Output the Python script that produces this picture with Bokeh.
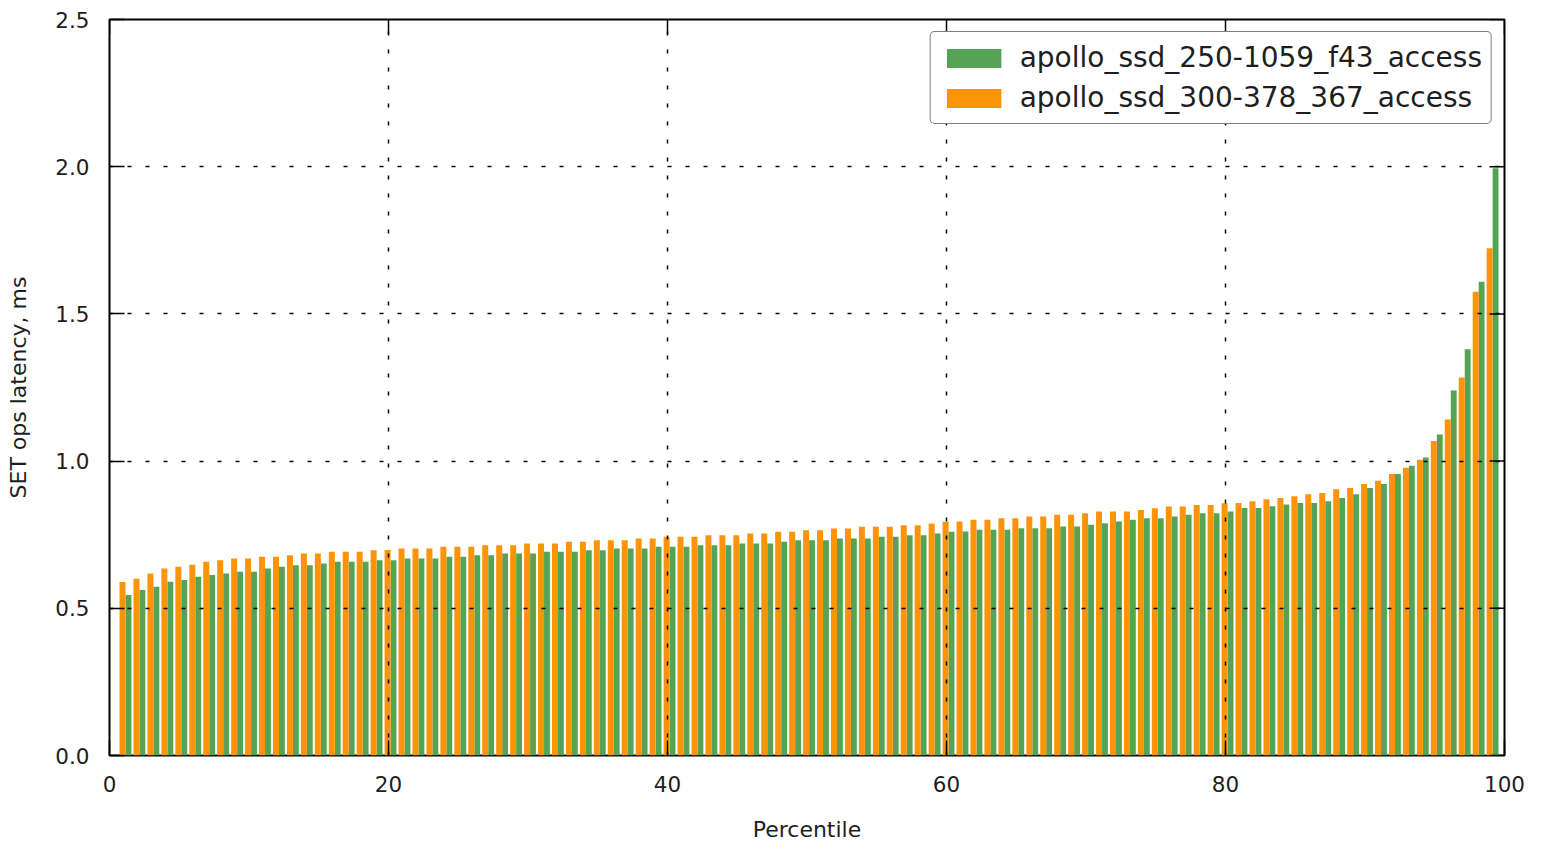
import math
from bokeh.plotting import figure
from bokeh.models import ColumnDataSource, Range1d, FixedTicker, Legend, LegendItem, NumeralTickFormatter
from bokeh.transform import dodge
from bokeh.embed import file_html
from bokeh.resources import INLINE

percentiles = list(range(1, 100))

ssd_300_378 = [
    0.589, 0.600, 0.618, 0.635, 0.641, 0.648, 0.658, 0.663, 0.669, 0.669,
    0.675, 0.675, 0.680, 0.686, 0.686, 0.692, 0.692, 0.692, 0.697, 0.698,
    0.703, 0.703, 0.703, 0.709, 0.709, 0.709, 0.714, 0.714, 0.714, 0.720,
    0.720, 0.720, 0.726, 0.726, 0.731, 0.731, 0.731, 0.737, 0.737, 0.743,
    0.743, 0.743, 0.748, 0.748, 0.748, 0.754, 0.754, 0.760, 0.760, 0.765,
    0.765, 0.771, 0.771, 0.777, 0.777, 0.777, 0.782, 0.782, 0.788, 0.794,
    0.795, 0.801, 0.801, 0.806, 0.806, 0.812, 0.812, 0.818, 0.818, 0.823,
    0.829, 0.829, 0.829, 0.834, 0.840, 0.846, 0.846, 0.851, 0.851, 0.857,
    0.858, 0.864, 0.870, 0.875, 0.881, 0.887, 0.892, 0.904, 0.909, 0.922,
    0.933, 0.956, 0.977, 1.005, 1.068, 1.141, 1.284, 1.575, 1.723,
]

ssd_250_1059 = [
    0.545, 0.562, 0.573, 0.590, 0.596, 0.607, 0.613, 0.618, 0.624, 0.624,
    0.635, 0.641, 0.646, 0.646, 0.652, 0.658, 0.658, 0.658, 0.663, 0.663,
    0.669, 0.669, 0.669, 0.675, 0.675, 0.680, 0.680, 0.686, 0.686, 0.686,
    0.692, 0.692, 0.692, 0.697, 0.697, 0.703, 0.703, 0.703, 0.709, 0.709,
    0.709, 0.714, 0.714, 0.714, 0.720, 0.720, 0.720, 0.726, 0.731, 0.731,
    0.731, 0.737, 0.737, 0.737, 0.743, 0.743, 0.748, 0.748, 0.754, 0.760,
    0.761, 0.767, 0.767, 0.767, 0.772, 0.772, 0.772, 0.778, 0.778, 0.784,
    0.789, 0.795, 0.801, 0.806, 0.806, 0.812, 0.818, 0.823, 0.823, 0.829,
    0.841, 0.841, 0.847, 0.853, 0.858, 0.858, 0.864, 0.875, 0.887, 0.909,
    0.922, 0.956, 0.984, 1.012, 1.090, 1.240, 1.380, 1.609, 1.995,
]

label_green = "apollo_ssd_250-1059_f43_access"
label_orange = "apollo_ssd_300-378_367_access"

x_ticks = [0, 20, 40, 60, 80, 100]
y_ticks = [0.0, 0.5, 1.0, 1.5, 2.0, 2.5]

GREEN = "#55a455"
ORANGE = "#fb9408"
FONT = "DejaVu Sans"
TEXT = "#1e1e1e"

source = ColumnDataSource(dict(p=percentiles, green=ssd_250_1059, orange=ssd_300_378))

p = figure(width=1537, height=848, output_backend="svg", toolbar_location=None,
           x_range=Range1d(x_ticks[0], x_ticks[-1]), y_range=Range1d(y_ticks[0], y_ticks[-1]),
           min_border_left=109, min_border_right=33, min_border_top=19, min_border_bottom=93)
p.background_fill_color = "white"
p.border_fill_color = "white"
p.outline_line_color = "black"
p.outline_line_width = 2

r_green = p.vbar(x=dodge("p", 0.36), top="green", width=0.42, bottom=0, source=source,
                 fill_color=GREEN, line_color=None)
r_orange = p.vbar(x=dodge("p", -0.065), top="orange", width=0.43, bottom=0, source=source,
                  fill_color=ORANGE, line_color=None)

# inside ticks on the top and right edges (matplotlib-style box ticks)
top_src = ColumnDataSource(dict(x=x_ticks, y=[y_ticks[-1]] * len(x_ticks)))
right_src = ColumnDataSource(dict(x=[x_ticks[-1]] * len(y_ticks), y=y_ticks))
p.ray(x="x", y="y", source=top_src, length=15, length_units="screen",
      angle=-math.pi / 2, line_color="black", line_width=1.5)
p.ray(x="x", y="y", source=right_src, length=15, length_units="screen",
      angle=math.pi, line_color="black", line_width=1.5)

def style_axis(ax):
    ax.axis_line_color = None
    ax.major_tick_in = 15
    ax.major_tick_out = 0
    ax.major_tick_line_color = "black"
    ax.major_tick_line_width = 1.5
    ax.minor_tick_line_color = None
    ax.major_label_text_font = FONT
    ax.major_label_text_font_size = "21.5px"
    ax.major_label_text_color = TEXT
    ax.axis_label_text_font = FONT
    ax.axis_label_text_font_size = "22px"
    ax.axis_label_text_font_style = "normal"
    ax.axis_label_text_color = TEXT

xax = p.xaxis[0]
yax = p.yaxis[0]
xax.ticker = FixedTicker(ticks=x_ticks)
yax.ticker = FixedTicker(ticks=y_ticks)
yax.formatter = NumeralTickFormatter(format="0.0")
style_axis(xax)
style_axis(yax)
xax.axis_label = "Percentile"
yax.axis_label = "SET ops latency, ms"
xax.major_label_standoff = 20
yax.major_label_standoff = 20
xax.axis_label_standoff = 22
yax.axis_label_standoff = 21

for g in (p.xgrid[0], p.ygrid[0]):
    g.grid_line_color = "black"
    g.grid_line_dash = "4 14"
    g.grid_line_width = 1.5
    g.level = "guide"
p.xgrid[0].ticker = FixedTicker(ticks=x_ticks[1:-1])
p.ygrid[0].ticker = FixedTicker(ticks=y_ticks[1:-1])

legend = Legend(items=[LegendItem(label=label_green, renderers=[r_green]),
                       LegendItem(label=label_orange, renderers=[r_orange])],
                location="top_right")
legend.label_text_font = FONT
legend.label_text_font_size = "28px"
legend.label_text_color = TEXT
legend.glyph_width = 68
legend.glyph_height = 24
legend.label_height = 28
legend.label_standoff = 12
legend.spacing = 7
legend.padding = 9
legend.margin = 12
legend.border_line_color = "black"
legend.border_line_width = 1.5
legend.background_fill_color = "white"
legend.background_fill_alpha = 1.0
if "border_radius" in Legend.properties():
    legend.border_radius = 5
p.add_layout(legend)

open("out.html", "w").write(file_html(p, INLINE))
